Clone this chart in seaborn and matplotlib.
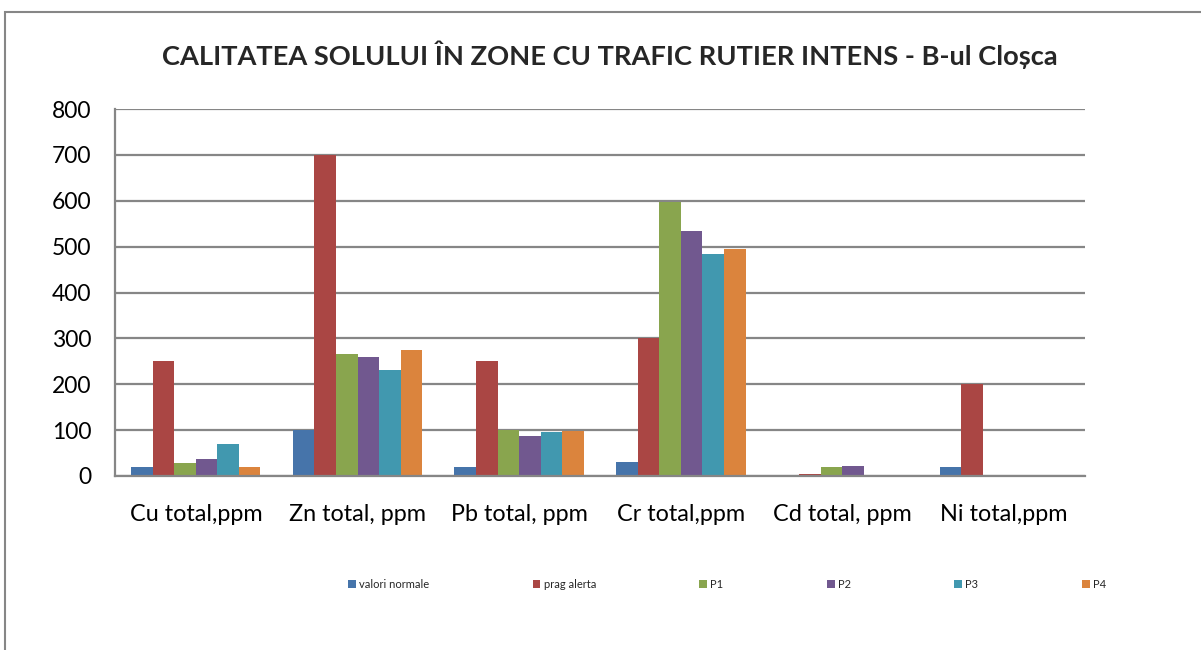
import matplotlib
matplotlib.use("Agg")
import matplotlib.pyplot as plt
import seaborn as sns
import pandas as pd
from matplotlib.patches import Rectangle

categories = ["Cu total,ppm", "Zn total, ppm", "Pb total, ppm", "Cr total,ppm", "Cd total, ppm", "Ni total,ppm"]
valori_normale = [20, 100, 20, 30, 1, 20]
prag_alerta = [250, 700, 250, 300, 5, 200]
p1 = [28, 267, 100, 597, 19, 0]
p2 = [36, 260, 88, 535, 21, 0]
p3 = [70, 231, 95, 484, 0.5, 0]
p4 = [20, 275, 99, 495, 0.5, 0]
series_names = ["valori normale", "prag alerta", "P1", "P2", "P3", "P4"]
colors = ["#4674aa", "#aa4644", "#89a54e", "#71588f", "#4198af", "#db843d"]
title = "CALITATEA SOLULUI ÎN ZONE CU TRAFIC RUTIER INTENS - B-ul Cloșca"
yticks = [0, 100, 200, 300, 400, 500, 600, 700, 800]

rows = []
for name, vals in zip(series_names, [valori_normale, prag_alerta, p1, p2, p3, p4]):
    for c, v in zip(categories, vals):
        rows.append({"cat": c, "serie": name, "val": v})
df = pd.DataFrame(rows)

sns.set_theme(style="white")
plt.rcParams["font.family"] = ["Lato", "DejaVu Sans"]

fig = plt.figure(figsize=(12.01, 6.5), dpi=100)
ax = fig.add_axes([115/1201, 1-476/650, 970/1201, 367/650])

sns.barplot(data=df, x="cat", y="val", hue="serie", order=categories,
            hue_order=series_names, palette=colors, width=0.8, ax=ax,
            edgecolor="none", linewidth=0, saturation=1)

ax.set_ylim(0, 800)
ax.set_xlim(-0.5, len(categories) - 0.5)
ax.set_yticks(yticks)
ax.yaxis.grid(True, color="#868686", linewidth=1.6)
ax.set_axisbelow(True)
for s in ["top", "right"]:
    ax.spines[s].set_visible(False)
for s in ["left", "bottom"]:
    ax.spines[s].set_color("#868686")
    ax.spines[s].set_linewidth(1.6)
ax.tick_params(axis="y", length=0, pad=17, labelsize=16.5, labelcolor="black")
ax.tick_params(axis="x", length=0, pad=20, labelsize=16.8, labelcolor="black")
ax.set_xlabel("")
ax.set_ylabel("")

leg = ax.legend(loc="center", bbox_to_anchor=(727/1201, 1-584/650), bbox_transform=fig.transFigure,
                ncol=6, frameon=False, fontsize=8, handlelength=0.7, handleheight=0.7,
                handletextpad=0.3, columnspacing=9.3)

fig.text(610/1201, 1-55/650, title, ha="center", va="center", fontsize=19.6, fontweight="bold")

fig.patches.append(Rectangle((5/1201, -0.1), 1.2, 1.1 - 12/650,
                             transform=fig.transFigure, fill=False, edgecolor="#868686", linewidth=1.5))

fig.savefig("out.png", dpi=100)
